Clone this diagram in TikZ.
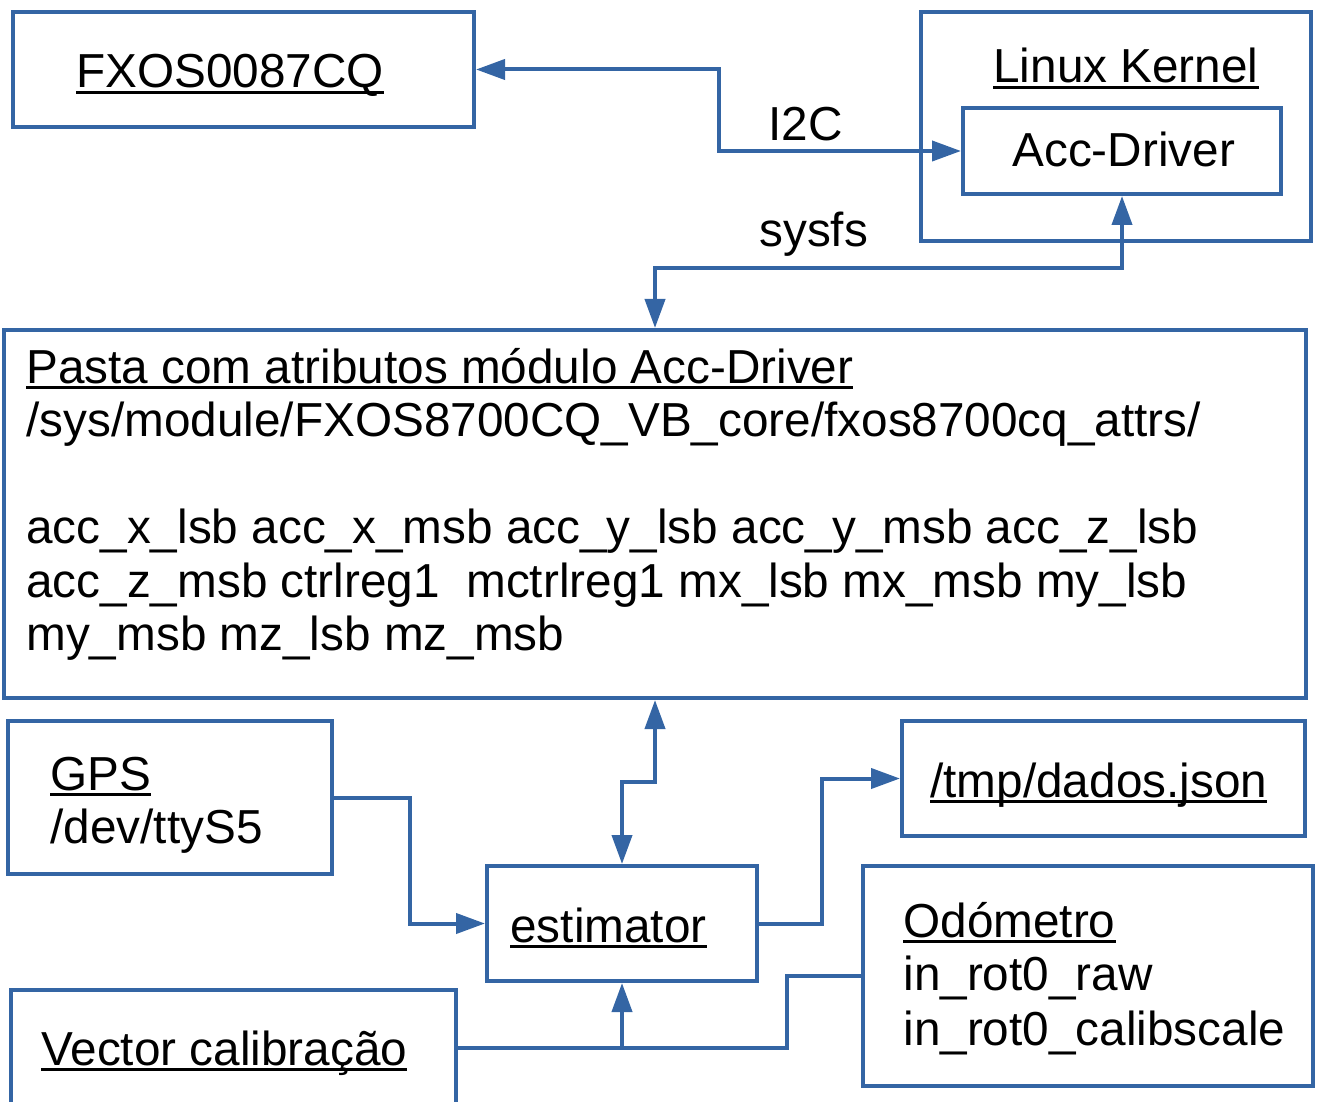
\documentclass[tikz,border=0pt]{standalone}
\usepackage{fontspec}
\setmainfont{Liberation Sans}
\usetikzlibrary{arrows.meta,fit,calc}
\definecolor{lo}{HTML}{3465A4}
\newcommand\ulx[1]{\setbox0\hbox{#1}\rlap{\rule[-3pt]{\wd0}{1.4pt}}\box0}
\begin{document}
\begin{tikzpicture}[x=0.5pt,y=-0.5pt,
  box/.style={draw=lo,line width=2pt,inner sep=0pt,fit={#1}},
  txt/.style={inner sep=0pt,anchor=base west,font=\fontsize{23.85pt}{26.75pt}\selectfont},
  conn/.style={draw=lo,line width=2pt},
  tip/.style={Triangle[length=14.5pt,width=10pt]}]
\useasboundingbox (0,0) rectangle (1320,1101);
% boxes
\node[box={(13,12)(474,127)}] (fx) {};
\node[box={(921,12)(1311,241)}] (kern) {};
\node[box={(963,108)(1281,194)}] (acc) {};
\node[box={(4,330)(1306,698)}] (big) {};
\node[box={(8,721)(332,874)}] (gps) {};
\node[box={(487,866)(757,981)}] (est) {};
\node[box={(902,721)(1305,836)}] (tmp) {};
\node[box={(863,866)(1313,1086)}] (odo) {};
\draw[conn] (11,1110) -- (11,990) -- (456,990) -- (456,1110);
\coordinate (vec) at (456,1048);
% texts
\node[txt] (tfx) at (76,88) {\ulx{FXOS0087CQ}};
\node[txt] (tkern) at (993,83) {\ulx{Linux Kernel}};
\node[txt] (tacc) at (1012,167) {Acc-Driver};
\node[txt] (ti2c) at (768,141) {I2C};
\node[txt] (tsys) at (759,247) {sysfs};
\node[txt] (b1) at (26,383) {\ulx{Pasta com atributos módulo Acc-Driver}};
\node[txt] (b2) at (26,436) {/sys/module/FXOS8700CQ\_VB\_core/fxos8700cq\_attrs/};
\node[txt] (b3) at (26,543) {acc\_x\_lsb acc\_x\_msb acc\_y\_lsb acc\_y\_msb acc\_z\_lsb};
\node[txt] (b4) at (26,597) {acc\_z\_msb ctrlreg1\ \ mctrlreg1 mx\_lsb mx\_msb my\_lsb};
\node[txt] (b5) at (26,650) {my\_msb mz\_lsb mz\_msb};
\node[txt] (g1) at (50,790) {\ulx{GPS}};
\node[txt] (g2) at (50,843) {/dev/ttyS5};
\node[txt] (te) at (510,942) {\ulx{estimator}};
\node[txt] (tt) at (930,797) {\ulx{/tmp/dados.json}};
\node[txt] (o1) at (903,937) {\ulx{Odómetro}};
\node[txt] (o2) at (903,990) {in\_rot0\_raw};
\node[txt] (o3) at (903,1045) {in\_rot0\_calibscale};
\node[txt] (tv) at (41,1065) {\ulx{Vector calibração}};
% connectors
\coordinate (i2c) at (719,110);
\draw[conn,{Triangle[length=14.5pt,width=10pt]}-{Triangle[length=14.5pt,width=10pt]}] (fx.east) -| (i2c) |- (acc.west);
\coordinate (sy) at (900,268);
\draw[conn,{Triangle[length=14.5pt,width=10pt]}-{Triangle[length=14.5pt,width=10pt]}] (acc.south) |- (sy) -| (big.north);
\coordinate (m1) at (640,782);
\draw[conn,{Triangle[length=14.5pt,width=10pt]}-{Triangle[length=14.5pt,width=10pt]}] (big.south) |- (m1) -| (est.north);
\coordinate (m2) at (410,860);
\draw[conn,-{Triangle[length=14.5pt,width=10pt]}] (gps.east) -| (m2) |- (est.west);
\coordinate (m3) at (822,850);
\draw[conn,-{Triangle[length=14.5pt,width=10pt]}] (est.east) -| (m3) |- (tmp.west);
\draw[conn,-{Triangle[length=14.5pt,width=10pt]}] (vec) -| (est.south);
\coordinate (jn) at (est.south |- vec);
\coordinate (m4) at (787,1010);
\draw[conn] (odo.west) -| (m4) |- (jn);
\end{tikzpicture}
\end{document}
